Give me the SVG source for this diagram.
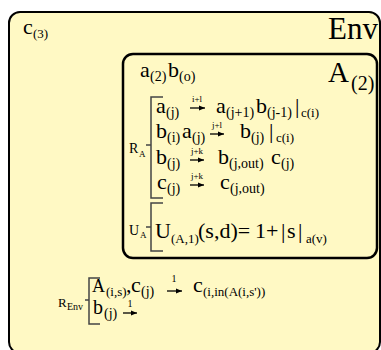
<svg xmlns="http://www.w3.org/2000/svg" width="381" height="350" viewBox="0 0 381 350">
<defs>
<marker id="ah" markerUnits="userSpaceOnUse" markerWidth="7" markerHeight="6" refX="6" refY="3" orient="auto">
<path d="M0,0.5 L6,3 L0,5.5 Z" fill="#000"/>
</marker>
<style>
text{font-family:"Liberation Serif","Times New Roman",serif;fill:#000}
.m{font-size:22px}
.s{font-size:14px}
.ss{font-size:13px}
.l{font-size:9px}
.lb{font-size:14px}
.lbs{font-size:9px}
.box{fill:#fff9c4;stroke:#000}
.br{fill:none;stroke:#444;stroke-width:1.5}
.arr{stroke:#000;stroke-width:1.3;fill:none;marker-end:url(#ah)}
</style>
</defs>
<g id="env">
<rect class="box" x="9" y="12" width="371" height="341" rx="11" stroke-width="2"/>
<text class="m" x="23" y="34">c</text><text class="ss" x="33" y="38">(3)</text>
<text x="378" y="39" font-size="31" text-anchor="end">Env</text>
</g>
<g id="membraneA">
<rect class="box" x="123" y="54" width="254" height="204" rx="10" stroke-width="2.5"/>
<text class="m" x="140" y="77">a</text><text class="s" x="150" y="81">(2)</text>
<text class="m" x="168" y="77">b</text><text class="s" x="179" y="81">(o)</text>
<text x="328" y="82" font-size="29">A</text><text x="351" y="90" font-size="20">(2)</text>
</g>
<g id="rulesA">
<path class="br" d="M163,97 H151 V198 H163 M146,145 H151"/>
<text class="lb" x="129" y="153">R</text><text class="lbs" x="139" y="157">A</text>
<text class="m" x="156" y="113">a</text><text class="s" x="166" y="117">(j)</text>
<text class="l" x="197" y="102" text-anchor="middle">i+l</text>
<text class="m" x="216" y="113">a</text><text class="s" x="226" y="117">(j+1)</text>
<text class="m" x="256" y="113">b</text><text class="s" x="267" y="117">(j-1)</text>
<text class="m" x="295" y="113">|</text><text class="ss" x="301" y="117">c(i)</text>
<text class="m" x="156" y="138">b</text><text class="s" x="167" y="142">(i)</text>
<text class="m" x="182" y="138">a</text><text class="s" x="192" y="142">(j)</text>
<text class="l" x="217" y="128" text-anchor="middle">j+l</text>
<text class="m" x="240" y="138">b</text><text class="s" x="251" y="142">(j)</text>
<text class="m" x="269" y="138">|</text><text class="ss" x="276" y="142">c(i)</text>
<text class="m" x="156" y="164">b</text><text class="s" x="167" y="168">(j)</text>
<text class="l" x="197" y="154" text-anchor="middle">j+k</text>
<text class="m" x="218" y="164">b</text><text class="s" x="229" y="168">(j,out)</text>
<text class="m" x="271" y="164">c</text><text class="s" x="281" y="168">(j)</text>
<text class="m" x="157" y="189">c</text><text class="s" x="167" y="193">(j)</text>
<text class="l" x="197" y="179" text-anchor="middle">j+k</text>
<text class="m" x="220" y="189">c</text><text class="s" x="230" y="193">(j,out)</text>
</g>
<g id="rulesU">
<path class="br" d="M163,203 H151 V251 H163 M146,227 H151"/>
<text class="lb" x="129" y="235">U</text><text class="lbs" x="140" y="238">A</text>
<text x="155" y="238" font-size="22">U</text><text class="ss" x="171" y="243">(A,1)</text>
<text x="198" y="238" font-size="22">(s,d)=</text>
<text x="255" y="238" font-size="22">1+</text>
<text x="281" y="238" font-size="22">|</text><text x="287" y="238" font-size="22">s</text><text x="298" y="238" font-size="22">|</text>
<text class="ss" x="306" y="243">a(v)</text>
</g>
<g id="rulesEnv">
<path class="br" d="M100,278 H89 V324 H100 M85,300 H89"/>
<text x="58" y="307" font-size="13">R</text><text x="67" y="310" font-size="10">Env</text>
<text x="92" y="292" font-size="18">A</text><text class="ss" x="106" y="296">(i,s)</text>
<text class="m" x="126" y="292">,</text>
<text class="m" x="131" y="292">c</text><text class="s" x="141" y="296">(j)</text>
<text x="174" y="282" font-size="10" text-anchor="middle">1</text>
<text class="m" x="193" y="292">c</text><text class="ss" x="203" y="296">(i,in(A(i,s'))</text>
<text x="93" y="314" font-size="20">b</text><text class="s" x="104" y="318">(j)</text>
<text x="130" y="307" font-size="10" text-anchor="middle">1</text>
</g>
<g id="connectors">
<line class="arr" x1="190" y1="108" x2="205" y2="108"/>
<line class="arr" x1="210" y1="134" x2="224" y2="134"/>
<line class="arr" x1="190" y1="160" x2="204" y2="160"/>
<line class="arr" x1="190" y1="185" x2="204" y2="185"/>
<line class="arr" x1="167" y1="291" x2="182" y2="291"/>
<line class="arr" x1="123" y1="313" x2="137" y2="313"/>
</g>
</svg>
